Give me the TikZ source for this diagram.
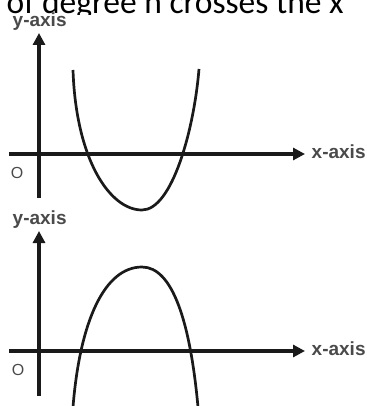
\documentclass[tikz,border=0pt]{standalone}
\usepackage{fontspec}
\setmainfont{Liberation Sans}
\newfontfamily\capfont{Carlito}
\usetikzlibrary{arrows.meta}
\definecolor{axcol}{HTML}{1A1A1A}
\definecolor{labcol}{HTML}{4A4A4A}
\begin{document}
\begin{tikzpicture}[x=1pt,y=-1pt,
  axisline/.style={line width=3.1pt, draw=axcol, -{Triangle[length=12pt,width=12pt]}},
  curve/.style={line width=2.7pt, draw=axcol},
  lab/.style={text=labcol, inner sep=0pt, anchor=base west, font=\bfseries\fontsize{19}{19}\selectfont},
  orig/.style={text=labcol, inner sep=0pt, font=\fontsize{16}{16}\selectfont}]
\useasboundingbox (0,0) rectangle (366,406);
\clip (0,0) rectangle (366,406);
\fill[white] (0,0) rectangle (366,406);
% caption fragment (only its lower part is visible)
\begin{scope}
\clip (0,0) rectangle (366,15);
\node[anchor=base west, inner sep=0pt, font=\capfont\fontsize{33.5}{33.5}\selectfont] (cap) at (6.5,14) {of degree n crosses the x};
\end{scope}
% ---------- top graph ----------
\coordinate (y1b) at (39,198);
\coordinate (y1t) at (39,33);
\coordinate (x1l) at (9,154);
\coordinate (x1r) at (305,154);
\draw[axisline] (y1b) -- (y1t);
\draw[axisline] (x1l) -- (x1r);
\node[lab] (ylab1) at (12.5,26.5) {y-axis};
\node[lab] (xlab1) at (311.5,158.5) {x-axis};
\node[orig] (o1) at (17,172.5) {O};
\coordinate (p1a) at (73,70);
\coordinate (p1v) at (142,210);
\coordinate (p1b) at (199,69);
\draw[curve] (p1a) .. controls (76,160) and (110,210) .. (p1v)
  .. controls (172,210) and (194,130) .. (p1b);
% ---------- bottom graph ----------
\coordinate (y2b) at (39,396);
\coordinate (y2t) at (39,231);
\coordinate (x2l) at (9,351);
\coordinate (x2r) at (305,351);
\draw[axisline] (y2b) -- (y2t);
\draw[axisline] (x2l) -- (x2r);
\node[lab] (ylab2) at (12.5,224) {y-axis};
\node[lab] (xlab2) at (311.5,355.5) {x-axis};
\node[orig] (o2) at (18,370) {O};
\coordinate (p2a) at (73,407);
\coordinate (p2v) at (142,267);
\coordinate (p2b) at (198,407);
\draw[curve] (p2a) .. controls (80,320) and (105,267) .. (p2v)
  .. controls (172,267) and (190,320) .. (p2b);
\end{tikzpicture}
\end{document}
